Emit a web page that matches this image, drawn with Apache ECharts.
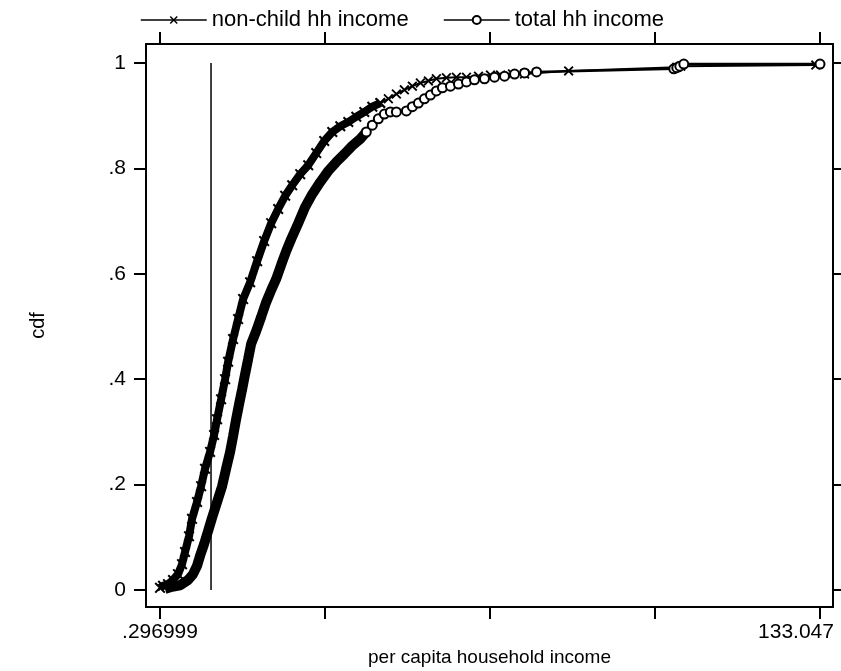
<!DOCTYPE html>
<html>
<head>
<meta charset="utf-8">
<script src="https://cdn.jsdelivr.net/npm/echarts@6/dist/echarts.min.js"></script>
<style>
html,body{margin:0;padding:0;background:#fff;}
#chart{width:841px;height:671px;}
</style>
</head>
<body>
<div id="chart"></div>
<script>
// ---- data ----
const nonChildIncome = [0.30, 0.90, 1.91, 2.92, 3.92, 4.73, 5.33, 6.14, 6.74, 7.75, 8.56, 9.36, 10.37, 11.18, 11.78, 12.59, 13.39, 14.00, 15.00, 16.01, 17.02, 18.43, 19.84, 21.25, 22.66, 24.07, 25.48, 26.89, 28.50, 30.11, 31.72, 33.33, 34.95, 36.56,
  38.17, 39.78, 41.39, 43.00, 44.61, 46.23, 47.84, 49.45, 51.06, 52.67, 54.28, 55.89, 57.91, 59.92, 61.94, 64.36, 66.77, 68.79, 71.20, 73.62, 82.49, 104.24, 105.05, 132.2];
const nonChildCdf = [0.004, 0.008, 0.011, 0.019, 0.030, 0.049, 0.072, 0.102, 0.135, 0.167, 0.197, 0.230, 0.262, 0.294, 0.324, 0.362, 0.400, 0.433, 0.476, 0.514, 0.552, 0.584, 0.624, 0.662, 0.696, 0.723, 0.748, 0.768, 0.789, 0.806, 0.829, 0.852, 0.869, 0.880,
  0.888, 0.898, 0.907, 0.917, 0.924, 0.932, 0.941, 0.949, 0.956, 0.962, 0.966, 0.970, 0.972, 0.973, 0.973, 0.975, 0.977, 0.977, 0.979, 0.979, 0.985, 0.992, 0.994, 0.996];

const totalIncome = [1.30, 2.71, 4.33, 5.94, 6.94, 7.75, 8.36, 9.16, 9.97, 10.77, 11.78, 12.79, 13.59, 14.40, 15.00, 15.61, 16.21, 16.82, 17.42, 18.02, 18.63, 19.64, 20.64, 21.65, 22.66, 23.66, 24.67, 25.68, 26.69, 28.10, 29.51, 30.92, 32.53, 34.14, 35.75, 37.36, 38.97, 40.59,
  41.79, 43.00, 44.21, 45.42, 46.63, 47.84, 49.85, 51.06, 52.27, 53.48, 54.69, 55.89, 57.10, 58.72, 60.33, 61.94, 63.55, 65.56, 67.58, 69.59, 71.61, 73.62, 76.04, 103.64, 104.24, 104.85, 105.65, 133.047];
const totalCdf = [0.002, 0.006, 0.009, 0.019, 0.030, 0.046, 0.065, 0.087, 0.112, 0.137, 0.167, 0.197, 0.230, 0.262, 0.292, 0.324, 0.353, 0.381, 0.410, 0.438, 0.467, 0.491, 0.518, 0.546, 0.569, 0.590, 0.617, 0.643, 0.666, 0.696, 0.727, 0.751, 0.774, 0.795, 0.812, 0.827, 0.843, 0.856,
  0.869, 0.882, 0.894, 0.903, 0.907, 0.907, 0.909, 0.917, 0.924, 0.932, 0.939, 0.947, 0.953, 0.956, 0.960, 0.964, 0.968, 0.970, 0.973, 0.975, 0.979, 0.981, 0.983, 0.989, 0.991, 0.994, 0.998, 0.998];

const povertyLineX = 10.56;
const povertyLineCdf = [0, 1];

const xTickValues = [0.296999, 33.484, 66.672, 99.859, 133.047];
const xLabelValues = [0.296999, 133.047];
const xLabelTexts = ['.296999', '133.047'];
const yTickValues = [0, 0.2, 0.4, 0.6, 0.8, 1];
const yTickTexts = ['0', '.2', '.4', '.6', '.8', '1'];

const seriesNames = ['non-child hh income', 'total hh income'];

// ---- build ----
function denseOf(xs, ys, lim) {
  const out = [];
  for (let i = 0; i < xs.length; i++) { if (ys[i] <= lim) out.push([xs[i], ys[i]]); }
  return out;
}
function tailOf(xs, ys, lim) {
  const out = [];
  for (let i = 0; i < xs.length; i++) {
    if (ys[i] > lim || (i + 1 < xs.length && ys[i + 1] > lim && ys[i] <= lim)) out.push([xs[i], ys[i]]);
  }
  return out;
}
const crossPath = 'path://M0,1.3L1.3,0L5,3.7L8.7,0L10,1.3L6.3,5L10,8.7L8.7,10L5,6.3L1.3,10L0,8.7L3.7,5Z';
const FONT = "'Liberation Sans', Arial, Helvetica, sans-serif";

const xMin = -2.519, xMax = 135.662, yMin = -0.0323, yMax = 1.036;

const chart = echarts.init(document.getElementById('chart'), null, { renderer: 'canvas' });

const axisLine = { show: true, onZero: false, lineStyle: { color: '#000', width: 2 } };
const tickStyle = { lineStyle: { color: '#000', width: 2 } };
const legendCommon = { top: 4, itemWidth: 66, itemHeight: 10, itemGap: 10,
  textStyle: { fontFamily: FONT, fontSize: 22, color: '#000' },
  lineStyle: { width: 1.5, color: '#000' }, selectedMode: false };

chart.setOption({
  animation: false,
  backgroundColor: '#fff',
  legend: [
    Object.assign({ data: [seriesNames[0]], left: 135 }, legendCommon),
    Object.assign({ data: [seriesNames[1]], left: 438 }, legendCommon)
  ],
  grid: { left: 146, right: 8, top: 44, bottom: 64, containLabel: false, outerBoundsMode: 'none' },
  xAxis: [
    { type: 'value', position: 'bottom', min: xMin, max: xMax,
      name: 'per capita household income', nameLocation: 'middle', nameGap: 41,
      nameTextStyle: { fontFamily: FONT, fontSize: 19, color: '#000' },
      axisLine: axisLine,
      axisTick: Object.assign({ show: true, length: 12, customValues: xTickValues }, tickStyle),
      axisLabel: { show: true, margin: 15, customValues: xLabelValues, fontFamily: FONT, fontSize: 21, color: '#000',
        rich: { v: { fontFamily: FONT, fontSize: 21, color: '#000' }, s: { width: 48 } },
        formatter: function (v) {
          const i = xLabelValues.findIndex(t => Math.abs(t - v) < 1e-6);
          if (i < 0) return '';
          return i === xLabelValues.length - 1 ? '{v|' + xLabelTexts[i] + '}{s| }' : xLabelTexts[i];
        } },
      splitLine: { show: false } },
    { type: 'value', position: 'top', min: xMin, max: xMax,
      axisLine: axisLine,
      axisTick: Object.assign({ show: true, length: 12, customValues: xTickValues }, tickStyle),
      axisLabel: { show: false }, splitLine: { show: false } }
  ],
  yAxis: [
    { type: 'value', position: 'left', min: yMin, max: yMax,
      name: 'cdf', nameLocation: 'middle', nameGap: 98, nameRotate: 90,
      nameTextStyle: { fontFamily: FONT, fontSize: 20, color: '#000' },
      axisLine: axisLine,
      axisTick: Object.assign({ show: true, length: 12, customValues: yTickValues }, tickStyle),
      axisLabel: { show: true, margin: 20, customValues: yTickValues, fontFamily: FONT, fontSize: 21, color: '#000',
        formatter: function (v) { const i = yTickValues.findIndex(t => Math.abs(t - v) < 1e-6); return i >= 0 ? yTickTexts[i] : ''; } },
      splitLine: { show: false } },
    { type: 'value', position: 'right', min: yMin, max: yMax,
      axisLine: axisLine,
      axisTick: Object.assign({ show: true, length: 12, customValues: yTickValues }, tickStyle),
      axisLabel: { show: false }, splitLine: { show: false } }
  ],
  series: [
    { name: 'poverty line', type: 'line', data: povertyLineCdf.map(c => [povertyLineX, c]),
      showSymbol: false, symbol: 'none', lineStyle: { color: '#000', width: 1.5 }, z: 1 },
    { name: 'nonchild-dense', type: 'line', data: denseOf(nonChildIncome, nonChildCdf, 0.93),
      symbol: crossPath, symbolSize: 11, itemStyle: { color: '#000' },
      lineStyle: { color: '#000', width: 8 }, z: 2 },
    { name: seriesNames[0], type: 'line', data: tailOf(nonChildIncome, nonChildCdf, 0.93),
      symbol: crossPath, symbolSize: 10, itemStyle: { color: '#000' },
      lineStyle: { color: '#000', width: 2 }, z: 3 },
    { name: 'total-dense', type: 'line', data: denseOf(totalIncome, totalCdf, 0.87),
      symbol: 'none', itemStyle: { color: '#000' },
      lineStyle: { color: '#000', width: 10 }, z: 2 },
    { name: seriesNames[1], type: 'line', data: tailOf(totalIncome, totalCdf, 0.87),
      symbol: 'emptyCircle', symbolSize: 9, itemStyle: { color: '#000', borderColor: '#000', borderWidth: 2 },
      lineStyle: { color: '#000', width: 2.5 }, z: 3 }
  ]
});
</script>
</body>
</html>
